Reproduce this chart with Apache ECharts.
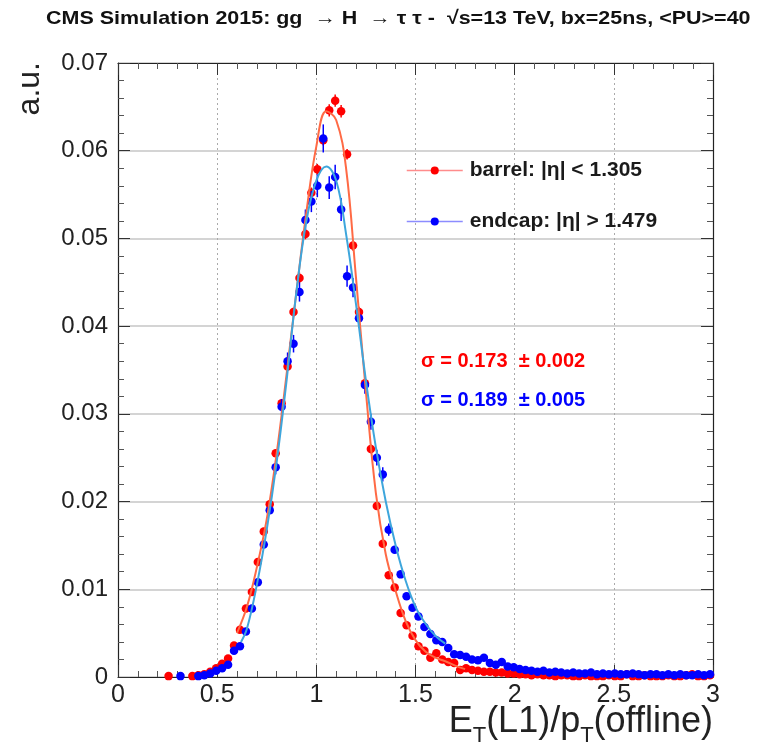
<!DOCTYPE html>
<html><head><meta charset="utf-8">
<script src="https://cdn.jsdelivr.net/npm/echarts@6/dist/echarts.min.js"></script>
<style>html,body{margin:0;padding:0;background:#fff}#c{width:757px;height:756px}</style>
</head><body><div id="c"></div>
<script>
// Histogram definition: 100 bins from 0 to 3
const binLow = 0;
const binWidth = 0.03;

// barrel (red) bin contents, a.u.
const barrelValues = [
 null,null,null,null,null,null,null,null,0.0001,null,
 null,null,0.0001,0.0002,0.0003,0.0006,0.0010,0.0015,0.0021,0.0036,
 0.0054,0.0078,0.0097,0.0131,0.0166,0.0197,0.0255,0.0312,0.0354,0.0416,
 0.0455,0.0505,0.0552,0.0579,0.0612,0.0646,0.0657,0.0645,0.0596,0.0492,
 0.0416,0.0335,0.0260,0.0195,0.0152,0.0116,0.0102,0.0073,0.0059,0.0047,
 0.0035,0.0030,0.0022,0.0027,0.0020,0.0017,0.0016,0.0008,0.0010,0.0008,
 0.0007,0.0006,0.0006,0.0005,0.0005,0.0004,0.0004,0.0003,0.0003,0.0002,
 0.0003,0.0002,0.0002,0.0001,0.0002,0.0002,0.0001,0.0001,0.0002,0.0001,
 0.0001,0.0001,0.0002,0.0001,0.0001,0.0003,0.0001,0.0001,0.0002,0.0001,
 0.0001,0.0001,0.0002,0.0001,0.0001,0.0002,0.0003,0.0001,0.0001,0.0002
];
// endcap (blue) bin contents, a.u.
const endcapValues = [
 null,null,null,null,null,null,null,null,null,null,
 0.0001,null,null,0.0001,0.0002,0.0004,0.0007,0.0010,0.0014,0.0030,
 0.0035,0.0052,0.0078,0.0108,0.0151,0.0190,0.0239,0.0308,0.0360,0.0380,
 0.0439,0.0521,0.0542,0.0560,0.0614,0.0558,0.0570,0.0533,0.0457,0.0444,
 0.0409,0.0333,0.0291,0.0250,0.0231,0.0168,0.0145,0.0117,0.0092,0.0079,
 0.0069,0.0057,0.0049,0.0042,0.0040,0.0033,0.0026,0.0025,0.0023,0.0020,
 0.0019,0.0022,0.0016,0.0014,0.0017,0.0012,0.0011,0.0009,0.0008,0.0007,
 0.0006,0.0007,0.0005,0.0006,0.0005,0.0004,0.0005,0.0004,0.0004,0.0005,
 0.0003,0.0004,0.0003,0.0004,0.0003,0.0003,0.0004,0.0003,0.0002,0.0003,
 0.0003,0.0002,0.0003,0.0002,0.0003,0.0002,0.0002,0.0003,0.0002,0.0003
];
// statistical error bars (only visible near the peak)
const barrelErrFrom = 28;
const barrelErrors = [0.0005,0.0005,0.0006,0.0006,0.0006,0.0006,0.0006,0.0007,0.0007,0.0007,0.0006,0.0006,0.0006,0.0005,0.0005];
const endcapErrFrom = 26;
const endcapErrors = [0.0008,0.0009,0.0010,0.0010,0.0011,0.0012,0.0012,0.0013,0.0016,0.0013,0.0014,0.0013,0.0012,0.0011,0.0011,0.0010,0.0009,0.0009,0.0008,0.0007];

// fitted curves
const barrelFitX = [0.60,0.65,0.70,0.75,0.80,0.85,0.90,0.95,1.00,1.05,1.10,1.15,1.20,1.25,1.30,1.35,1.40,1.45,1.50,1.55,1.60,1.65,1.70,1.75];
const barrelFitY = [0.0050,0.0080,0.0125,0.0180,0.0255,0.0345,0.0440,0.0530,0.0605,0.0645,0.0635,0.0580,0.0455,0.0325,0.0210,0.0140,0.0098,0.0064,0.0042,0.0029,0.0022,0.0018,0.0013,0.0009];
const endcapFitX = [0.62,0.65,0.70,0.75,0.80,0.85,0.90,0.95,1.00,1.05,1.10,1.15,1.20,1.25,1.30,1.35,1.40,1.45,1.50,1.55,1.60,1.65];
const endcapFitY = [0.0040,0.0055,0.0105,0.0168,0.0245,0.0338,0.0440,0.0520,0.0566,0.0582,0.0566,0.0505,0.0425,0.0338,0.0262,0.0200,0.0150,0.0110,0.0080,0.0061,0.0047,0.0038];

const xTicks = [0, 0.5, 1, 1.5, 2, 2.5, 3];
const yTicks = [0, 0.01, 0.02, 0.03, 0.04, 0.05, 0.06, 0.07];

const titleText = 'CMS Simulation 2015: gg  \u2192 H  \u2192 \u03c4 \u03c4 -  \u221as=13 TeV, bx=25ns, <PU>=40';
const barrelName = 'barrel: |\u03b7| < 1.305';
const endcapName = 'endcap: |\u03b7| > 1.479';
const barrelSigma = '\u03c3 = 0.173  \u00b1 0.002';
const endcapSigma = '\u03c3 = 0.189  \u00b1 0.005';

const FONT = 'Liberation Sans, Arial, Helvetica, sans-serif';

function points(vals) {
  const out = [];
  vals.forEach((v, i) => { if (v !== null) out.push([binLow + binWidth * (i + 0.5), v]); });
  return out;
}
function errs(vals, from, errArr) {
  return errArr.map((e, k) => { const i = from + k; return [binLow + binWidth * (i + 0.5), vals[i], e]; });
}
function curve(xs, ys) { return xs.map((x, i) => [x, ys[i]]); }

function errRender(color) {
  return function (params, api) {
    const x = api.value(0), y = api.value(1), e = api.value(2);
    const p1 = api.coord([x, y - e]), p2 = api.coord([x, y + e]);
    return { type: 'line', shape: { x1: p1[0], y1: p1[1], x2: p2[0], y2: p2[1] }, style: { stroke: color, lineWidth: 1.5 } };
  };
}

const chart = echarts.init(document.getElementById('c'), null, { renderer: 'canvas' });
const axisCommon = {
  type: 'value',
  axisLine: { show: true, onZero: false, lineStyle: { color: '#222', width: 1.2 } },
  axisTick: { show: true, inside: true, length: 12, lineStyle: { color: '#333', width: 1 } },
  minorTick: { show: true, splitNumber: 5, length: 6, lineStyle: { color: '#555', width: 1 } }
};
chart.setOption({
  backgroundColor: '#fff',
  animation: false,
  grid: { left: 118, right: 44, top: 63, bottom: 79, containLabel: false },
  xAxis: [
    Object.assign({}, axisCommon, {
      position: 'bottom', min: 0, max: 3, interval: 0.5,
      splitLine: { show: true, lineStyle: { color: '#aaa', type: [2, 3], width: 1 } },
      axisLabel: { fontFamily: FONT, fontSize: 25, color: '#222', margin: 6,
        formatter: v => String(xTicks.find(t => Math.abs(t - v) < 1e-9) ?? v) }
    }),
    Object.assign({}, axisCommon, {
      position: 'top', min: 0, max: 3, interval: 0.5,
      splitLine: { show: false }, axisLabel: { show: false }
    })
  ],
  yAxis: [
    Object.assign({}, axisCommon, {
      position: 'left', min: 0, max: 0.07, interval: 0.01,
      splitLine: { show: true, lineStyle: { color: '#d4d4d4', width: 2 } },
      axisLabel: { fontFamily: FONT, fontSize: 24, color: '#222', margin: 10,
        formatter: v => { const t = yTicks.find(t => Math.abs(t - v) < 1e-9); return t === 0 ? '0' : t.toFixed(2); } }
    }),
    Object.assign({}, axisCommon, {
      position: 'right', min: 0, max: 0.07, interval: 0.01,
      splitLine: { show: false }, axisLabel: { show: false }
    })
  ],
  legend: {
    orient: 'vertical', left: 401, top: 155, itemGap: 30, itemWidth: 56, itemHeight: 10,
    data: [barrelName, endcapName],
    textStyle: { fontFamily: FONT, fontSize: 21, fontWeight: 'bold', color: '#1a1a1a', padding: [0, 0, 0, 2] },
    lineStyle: { opacity: 1, width: 1.5 }
  },
  series: [
    { name: barrelName, type: 'line', data: points(barrelValues), symbol: 'circle', symbolSize: 8.5, showSymbol: true,
      itemStyle: { color: '#ff0000' }, lineStyle: { color: '#ff8c8c', opacity: 0 }, z: 3 },
    { name: endcapName, type: 'line', data: points(endcapValues), symbol: 'circle', symbolSize: 8.5, showSymbol: true,
      itemStyle: { color: '#0000ff' }, lineStyle: { color: '#8c8cff', opacity: 0 }, z: 4 },
    { type: 'custom', data: errs(barrelValues, barrelErrFrom, barrelErrors), renderItem: errRender('#ff0000'), z: 3 },
    { type: 'custom', data: errs(endcapValues, endcapErrFrom, endcapErrors), renderItem: errRender('#0000ff'), z: 4 },
    { type: 'line', data: curve(barrelFitX, barrelFitY), smooth: 0.4, showSymbol: false, symbol: 'none',
      lineStyle: { color: '#ff6a45', width: 2 }, z: 5 },
    { type: 'line', data: curve(endcapFitX, endcapFitY), smooth: 0.4, showSymbol: false, symbol: 'none',
      lineStyle: { color: '#3ea6dc', width: 2 }, z: 6 }
  ],
  graphic: [
    { type: 'text', x: 46, y: 19, scaleX: 1.13, scaleY: 1,
      style: { text: titleText, fontFamily: FONT, fontSize: 19, fontWeight: 'bold', fill: '#111', verticalAlign: 'middle' } },
    { type: 'text', x: 30, y: 62, rotation: Math.PI / 2,
      style: { text: 'a.u.', fontFamily: FONT, fontSize: 32, fill: '#222', align: 'right', verticalAlign: 'middle' } },
    { type: 'text', x: 713, y: 704,
      style: { text: '{n|E}{s|T}{n|(L1)/p}{s|T}{n|(offline)}', align: 'right', verticalAlign: 'top',
        rich: { n: { fontFamily: FONT, fontSize: 36, fill: '#222', lineHeight: 37, verticalAlign: 'top' },
                s: { fontFamily: FONT, fontSize: 22, fill: '#222', lineHeight: 22, padding: [21, 0, 0, 0], verticalAlign: 'top' } } } },
    { type: 'text', x: 421, y: 361, style: { text: barrelSigma, fontFamily: FONT, fontSize: 20, fontWeight: 'bold', fill: '#ff0000', verticalAlign: 'middle' } },
    { type: 'text', x: 421, y: 400, style: { text: endcapSigma, fontFamily: FONT, fontSize: 20, fontWeight: 'bold', fill: '#0000ff', verticalAlign: 'middle' } }
  ]
});
</script></body></html>
